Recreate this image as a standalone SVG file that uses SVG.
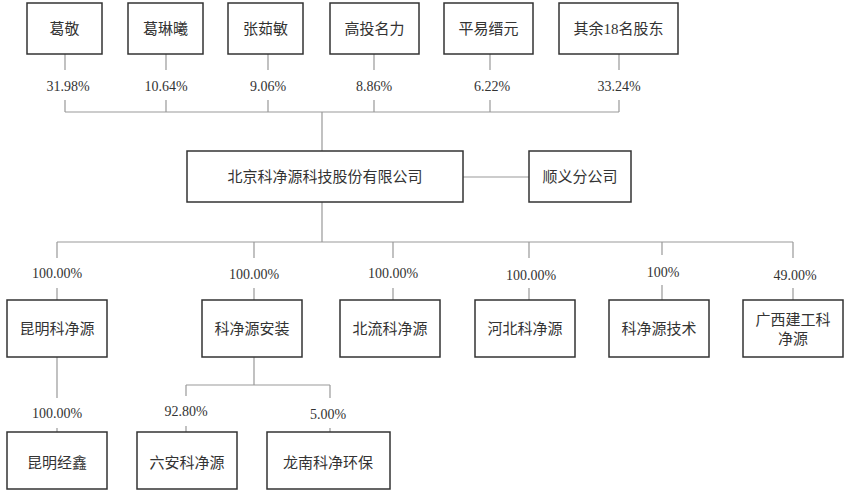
<svg xmlns="http://www.w3.org/2000/svg" width="847" height="497" viewBox="0 0 847 497">
<style>
.b{fill:#fff;stroke:#333;stroke-width:1.5}
.t{font-family:"Liberation Serif","Noto Sans CJK SC",serif;font-size:15px;fill:#333;text-anchor:middle;dominant-baseline:central}
.p{font-family:"Liberation Serif",serif;font-size:14px;fill:#333;text-anchor:middle;dominant-baseline:central}
.c{fill:none;stroke:#999;stroke-width:1.2}
</style>
<rect width="847" height="497" fill="#fff"/>
<g id="connectors" class="c">
<path d="M65 54V112M166 54V112M268 54V112M374 54V112M490 54V112M619 54V112M65 112H619M322 112V151"/>
<path d="M463 177H529"/>
<path d="M322 202V242M57 242H793M57 242V300M254 242V300M393 242V300M529 242V300M662 242V300M793 242V300"/>
<path d="M57 357V432M254 357V385M186 385H330M186 385V432M330 385V432"/>
</g>
<g class="p">
<g id="l1"><rect x="28" y="70" width="80" height="30" fill="#fff"/><text x="68" y="86">31.98%</text></g>
<g id="l2"><rect x="133" y="70" width="68" height="30" fill="#fff"/><text x="166" y="86">10.64%</text></g>
<g id="l3"><rect x="237" y="70" width="66" height="30" fill="#fff"/><text x="268" y="86">9.06%</text></g>
<g id="l4"><rect x="341" y="70" width="68" height="30" fill="#fff"/><text x="374" y="86">8.86%</text></g>
<g id="l5"><rect x="458" y="70" width="66" height="30" fill="#fff"/><text x="492" y="86">6.22%</text></g>
<g id="l6"><rect x="585" y="70" width="66" height="30" fill="#fff"/><text x="619" y="86">33.24%</text></g>
<g id="l7"><rect x="17" y="258" width="82" height="30" fill="#fff"/><text x="57" y="273">100.00%</text></g>
<g id="l8"><rect x="214" y="258" width="80" height="30" fill="#fff"/><text x="254" y="274">100.00%</text></g>
<g id="l9"><rect x="353" y="258" width="80" height="30" fill="#fff"/><text x="393" y="273">100.00%</text></g>
<g id="l10"><rect x="489" y="258" width="80" height="30" fill="#fff"/><text x="531" y="275">100.00%</text></g>
<g id="l11"><rect x="622" y="255" width="80" height="30" fill="#fff"/><text x="663" y="272">100%</text></g>
<g id="l12"><rect x="755" y="258" width="80" height="30" fill="#fff"/><text x="795" y="275">49.00%</text></g>
<g id="l13"><rect x="17" y="398" width="82" height="30" fill="#fff"/><text x="57" y="413">100.00%</text></g>
<g id="l14"><rect x="146" y="396" width="82" height="30" fill="#fff"/><text x="186" y="411">92.80%</text></g>
<g id="l15"><rect x="290" y="398" width="80" height="30" fill="#fff"/><text x="328" y="414">5.00%</text></g>
</g>
<g id="n1"><rect class="b" x="27" y="3" width="75" height="51"/><text class="t" x="64.5" y="29">葛敬</text></g>
<g id="n2"><rect class="b" x="128" y="3" width="75" height="51"/><text class="t" x="165.5" y="29">葛琳曦</text></g>
<g id="n3"><rect class="b" x="228" y="3" width="75" height="51"/><text class="t" x="265.5" y="29">张茹敏</text></g>
<g id="n4"><rect class="b" x="330" y="3" width="89" height="51"/><text class="t" x="374.5" y="29">高投名力</text></g>
<g id="n5"><rect class="b" x="444" y="3" width="89" height="51"/><text class="t" x="488.5" y="29">平易缙元</text></g>
<g id="n6"><rect class="b" x="559" y="3" width="119" height="51"/><text class="t" x="618.5" y="29">其余18名股东</text></g>
<g id="main"><rect class="b" x="187" y="151" width="276" height="51"/><text class="t" x="325" y="177">北京科净源科技股份有限公司</text></g>
<g id="shunyi"><rect class="b" x="529" y="151" width="102" height="51"/><text class="t" x="580" y="177">顺义分公司</text></g>
<g id="c1"><rect class="b" x="7" y="300" width="100" height="57"/><text class="t" x="57" y="329">昆明科净源</text></g>
<g id="c2"><rect class="b" x="202" y="300" width="100" height="57"/><text class="t" x="252" y="329">科净源安装</text></g>
<g id="c3"><rect class="b" x="340" y="300" width="100" height="57"/><text class="t" x="390" y="329">北流科净源</text></g>
<g id="c4"><rect class="b" x="475" y="300" width="100" height="57"/><text class="t" x="525" y="329">河北科净源</text></g>
<g id="c5"><rect class="b" x="609" y="300" width="100" height="57"/><text class="t" x="659" y="329">科净源技术</text></g>
<g id="c6"><rect class="b" x="743" y="300" width="100" height="57"/><text class="t" x="793" y="320">广西建工科</text><text class="t" x="793" y="339">净源</text></g>
<g id="d1"><rect class="b" x="7" y="432" width="100" height="57"/><text class="t" x="57" y="463">昆明经鑫</text></g>
<g id="d2"><rect class="b" x="137" y="432" width="100" height="57"/><text class="t" x="187" y="463">六安科净源</text></g>
<g id="d3"><rect class="b" x="267" y="432" width="123" height="57"/><text class="t" x="328" y="463">龙南科净环保</text></g>
</svg>
